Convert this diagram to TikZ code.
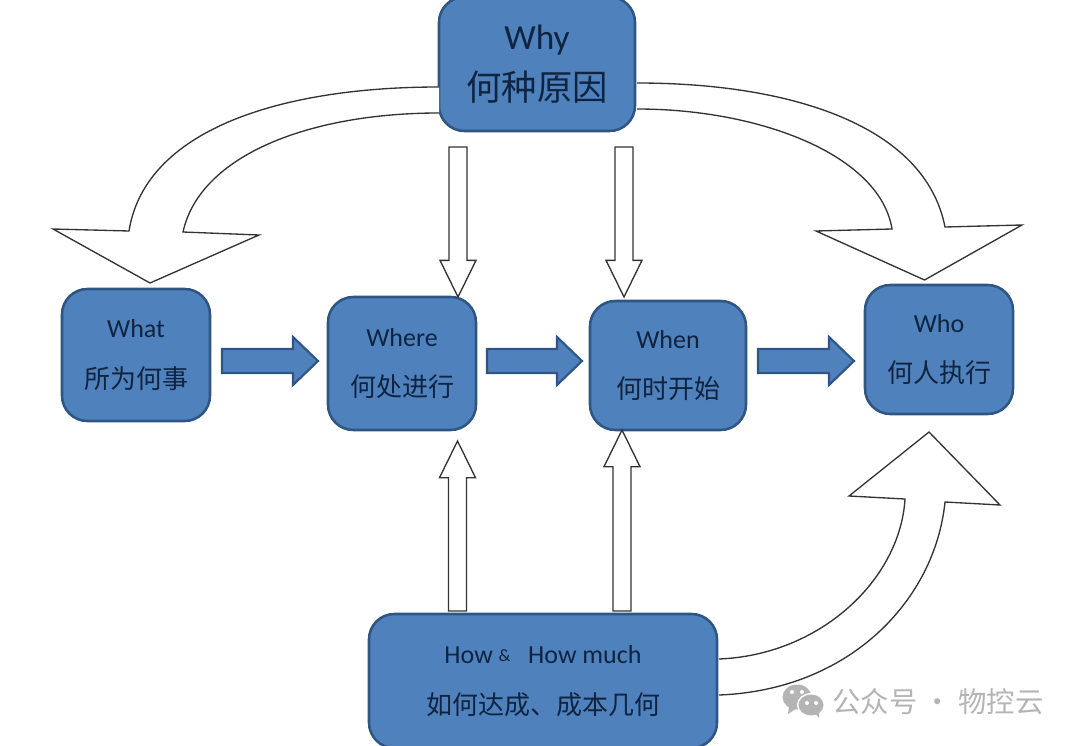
\documentclass[tikz,border=0pt]{standalone}
\usepackage{fontspec}
\setmainfont{Carlito}
\newfontfamily\cjk{Noto Sans CJK SC}
\usetikzlibrary{calc}

\definecolor{boxblue}{HTML}{4F81BD}
\definecolor{boxline}{HTML}{2F5583}
\definecolor{boxtext}{HTML}{0F2440}
\definecolor{markgray}{HTML}{B4B4B4}

\tikzset{
	boxnode/.style={draw=boxline, fill=boxblue, line width=1.9pt, rounded corners=19pt,
		align=center, text=boxtext, inner sep=0pt, font=\fontsize{19.5}{38}\selectfont},
	blockarrow/.style n args={3}{to path={
		($(\tikztostart)!#1!90:(\tikztotarget)$)
		-- ($(\tikztotarget)!#3!(\tikztostart)!#1!90:(\tikztotarget)$)
		-- ($(\tikztotarget)!#3!(\tikztostart)!#2!90:(\tikztotarget)$)
		-- (\tikztotarget)
		-- ($(\tikztotarget)!#3!(\tikztostart)!#2!-90:(\tikztotarget)$)
		-- ($(\tikztotarget)!#3!(\tikztostart)!#1!-90:(\tikztotarget)$)
		-- ($(\tikztostart)!#1!-90:(\tikztotarget)$)
		-- cycle}},
	flowarrow/.style={draw=boxline, fill=boxblue, line width=1.6pt, blockarrow={9pt}{18pt}{18.75pt}},
	hollowarrow/.style={draw=black!80, fill=white, line width=1pt, blockarrow={6.75pt}{13.5pt}{27.5pt}},
	bendarrow/.style={draw=black!80, fill=white, line width=1pt, line join=miter}
}

\begin{document}
\begin{tikzpicture}[x=.75pt, y=-.75pt]
	\useasboundingbox (0,0) rectangle (1080,745);

	% boxes
	\node [boxnode, minimum width=147pt, minimum height=100.5pt, font=\fontsize{26.5}{38}\selectfont]
		(why) at (537,64) {Why\\{\cjk\fontsize{26.5}{38}\selectfont 何种原因}};
	\node [boxnode, minimum width=111pt, minimum height=99pt]
		(what) at (136,355) {What\\{\cjk\fontsize{19.5}{38}\selectfont 所为何事}};
	\node [boxnode, minimum width=111pt, minimum height=99.75pt]
		(where) at (402,363.5) {Where\\{\cjk\fontsize{19.5}{38}\selectfont 何处进行}};
	\node [boxnode, minimum width=117pt, minimum height=96.75pt]
		(when) at (668,365.5) {When\\{\cjk\fontsize{19.5}{38}\selectfont 何时开始}};
	\node [boxnode, minimum width=111pt, minimum height=96.75pt]
		(who) at (939,349.5) {Who\\{\cjk\fontsize{19.5}{38}\selectfont 何人执行}};
	\node [boxnode, minimum width=261pt, minimum height=100.5pt]
		(how) at (543,681) {How {\fontsize{13}{13}\selectfont\raisebox{.2ex}{\&}}\ \ \ How much\\{\cjk\fontsize{19.5}{38}\selectfont 如何达成、成本几何}};

	% arrows between the boxes
	\coordinate (whatout) at (222,361);
	\coordinate (wherein) at (318,361);
	\coordinate (whereout) at (487,361);
	\coordinate (whenin) at (582,361);
	\coordinate (whenout) at (758,361);
	\coordinate (whoin) at (854,361);

	\draw [flowarrow] (whatout) to (wherein);
	\draw [flowarrow] (whereout) to (whenin);
	\draw [flowarrow] (whenout) to (whoin);

	% hollow arrows from why and from how
	\coordinate (whyleft) at (458,147);
	\coordinate (wheretop) at (458,297);
	\coordinate (whyright) at (624,147);
	\coordinate (whentop) at (624,297);
	\coordinate (howleft) at (457.5,611);
	\coordinate (wherebottom) at (457.5,441);
	\coordinate (howright) at (622,611);
	\coordinate (whenbottom) at (622,430);

	\draw [hollowarrow] (whyleft) to (wheretop);
	\draw [hollowarrow] (whyright) to (whentop);
	\draw [hollowarrow] (howleft) to (wherebottom);
	\draw [hollowarrow] (howright) to (whenbottom);

	% bent arrows
	\draw [bendarrow]
		(439,87) .. controls (280,87) and (145,130) .. (129,231)
		-- (53,229) -- (150,283) -- (259,235) -- (183,232)
		.. controls (200,155) and (310,113) .. (439,113);

	\draw [bendarrow]
		(637,83) .. controls (790,83) and (925,125) .. (945,227)
		-- (1022,225) -- (924.5,280) -- (816,231) -- (892,229)
		.. controls (880,155) and (760,109) .. (637,109);

	\draw [bendarrow]
		(719,659) .. controls (820,655) and (900,580) .. (905,499)
		-- (849,496) -- (929,432) -- (1000,505) -- (945,502)
		.. controls (935,600) and (850,690) .. (719,695);

	% mark in the corner
	\fill [markgray] (797,697) ellipse [x radius=14.5, y radius=12.5];
	\fill [markgray] (789,706) -- (788,714) -- (797,708) -- cycle;
	\fill [white] (811,705) ellipse [x radius=14, y radius=12];
	\fill [markgray] (811,705) ellipse [x radius=12.5, y radius=10.5];
	\fill [markgray] (815,713) -- (819,718) -- (819,711) -- cycle;
	\foreach \x/\y in {792/692, 802/692, 807/703, 816/703}
		\fill [white] (\x,\y) circle [radius=2];

	\node [text=markgray, inner sep=0pt, font=\cjk\fontsize{21.3}{21.3}\selectfont]
		(mark) at (938,702) {公众号 · 物控云};
\end{tikzpicture}
\end{document}
